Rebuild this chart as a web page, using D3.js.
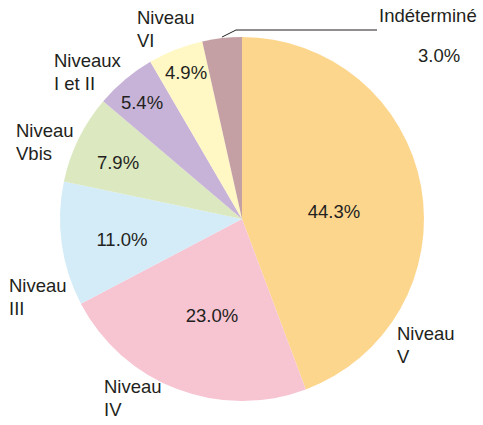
<!DOCTYPE html>
<html lang="fr">
<head>
  <meta charset="UTF-8">
  <title>Répartition par niveau</title>
  <script src="https://cdn.jsdelivr.net/npm/d3@7"></script>
  <style>
    body { margin: 0; background: #fff; font-family: "Liberation Sans", Arial, sans-serif; }
    svg { display: block; }
    text { fill: #231f20; font-size: 18.5px; }
  </style>
</head>
<body>
  <svg width="483" height="425"></svg>
  <script>
    // data
    const categories = ['Niveau V', 'Niveau IV', 'Niveau III', 'Niveau Vbis', 'Niveaux I et II', 'Niveau VI', 'Indéterminé'];
    const values = [44.3, 23.0, 11.0, 7.9, 5.4, 4.9, 3.0];
    const labelLines = [['Niveau', 'V'], ['Niveau', 'IV'], ['Niveau', 'III'], ['Niveau', 'Vbis'], ['Niveaux', 'I et II'], ['Niveau', 'VI'], ['Indéterminé']];
    const colors = ['#fdd68e', '#f7c4d2', '#d4ecf8', '#dce8c0', '#c8b3d8', '#fff8c4', '#c4a0a4'];

    // layout: hand-placed labels
    const labelPos = [[397, 340], [104, 393], [9, 292], [16, 137], [54, 67], [137, 24], [379, 22]]; // left x, first baseline
    const pctPos = [[92, -7], [-30, 97], [-120, 21], [-124, -56], [-100, -116], [-56, -146]]; // offset from centre

    const cx = 242, cy = 219, r = 182;
    const svg = d3.select('svg');
    const g = svg.append('g').attr('transform', `translate(${cx},${cy})`);

    // angles on a 0–100 % scale; the last slice closes the circle
    const total = d3.sum(values);
    const pie = d3.pie().sort(null).value(d => d.v).endAngle(2 * Math.PI * total / 100);
    const arcs = pie(values.map((v, i) => ({ v, i })));
    arcs[arcs.length - 1].endAngle = 2 * Math.PI;
    const arc = d3.arc().innerRadius(0).outerRadius(r);

    g.selectAll('path')
      .data(arcs)
      .join('path')
      .attr('d', arc)
      .attr('fill', d => colors[d.data.i]);

    g.selectAll('text.pct')
      .data(arcs.slice(0, pctPos.length))
      .join('text')
      .attr('class', 'pct')
      .attr('text-anchor', 'middle')
      .attr('dy', '0.35em')
      .attr('x', d => pctPos[d.data.i][0])
      .attr('y', d => pctPos[d.data.i][1])
      .text(d => d.data.v.toFixed(1) + '%');

    // small slice: value placed outside with leader line
    const small = arcs[6];
    const sa = (small.startAngle + small.endAngle) / 2;
    const p0 = [cx + Math.sin(sa) * (r + 1), cy - Math.cos(sa) * (r + 1)];
    svg.append('path')
      .attr('d', d3.line()([p0, [236, 30], [377, 30]]))
      .attr('fill', 'none')
      .attr('stroke', '#231f20')
      .attr('stroke-width', 1);
    svg.append('text')
      .attr('x', 418).attr('y', 62)
      .text(small.data.v.toFixed(1) + '%');

    // category labels
    const cat = svg.selectAll('text.cat')
      .data(categories)
      .join('text')
      .attr('class', 'cat')
      .attr('x', (d, i) => labelPos[i][0])
      .attr('y', (d, i) => labelPos[i][1]);
    cat.each(function (d, i) {
      d3.select(this).selectAll('tspan')
        .data(labelLines[i])
        .join('tspan')
        .attr('x', labelPos[i][0])
        .attr('dy', (t, j) => j ? 23 : 0)
        .text(t => t);
    });
  </script>
</body>
</html>
